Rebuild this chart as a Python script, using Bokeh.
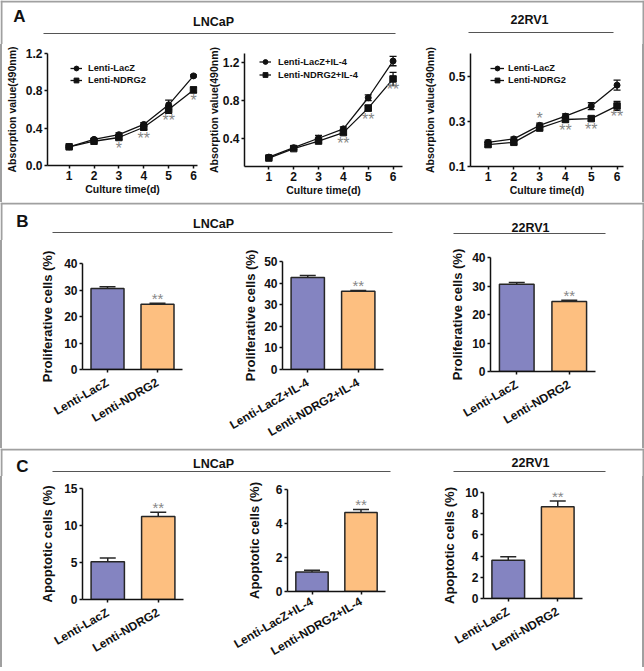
import math
from bokeh.plotting import figure
from bokeh.layouts import column, row
from bokeh.models import (ColumnDataSource, Range1d, FactorRange, FixedTicker, Div,
                          NumeralTickFormatter, Whisker, TeeHead, Legend, LegendItem)
from bokeh.core.properties import value
from bokeh.embed import file_html
from bokeh.resources import INLINE

FONT = "Liberation Sans"
BLACK = "#111111"
STAR_GRAY = "#878787"
FRAME_GRAY = "#a0a0a0"
BAR_FILL = ["#8484c1", "#fdbf80"]
BAR_LINE = "#262626"

# ---------------- data ----------------
panel_letters = ["A", "B", "C"]
cell_lines = ["LNCaP", "22RV1"]

days = [1, 2, 3, 4, 5, 6]
x_title = "Culture time(d)"
a_ylabel = "Absorption value(490nm)"

a1_names = ["Lenti-LacZ", "Lenti-NDRG2"]
a1_lacz = [0.20, 0.28, 0.33, 0.44, 0.65, 0.96]
a1_lacz_err = [0.01, 0.01, 0.02, 0.02, 0.05, 0.01]
a1_ndrg2 = [0.20, 0.26, 0.30, 0.41, 0.60, 0.81]
a1_ndrg2_err = [0.01, 0.01, 0.02, 0.03, 0.04, 0.03]
a1_sig = ["", "", "*", "**", "**", "*"]
a1_sig_side = ["", "", "below", "below", "below", "below"]
a1_yticks = [0.0, 0.4, 0.8, 1.2]

a2_names = ["Lenti-LacZ+IL-4", "Lenti-NDRG2+IL-4"]
a2_lacz = [0.20, 0.30, 0.40, 0.50, 0.83, 1.22]
a2_lacz_err = [0.01, 0.02, 0.03, 0.02, 0.03, 0.05]
a2_ndrg2 = [0.19, 0.29, 0.37, 0.46, 0.72, 1.03]
a2_ndrg2_err = [0.01, 0.01, 0.02, 0.02, 0.03, 0.07]
a2_sig = ["", "", "", "**", "**", "**"]
a2_sig_side = ["", "", "", "below", "below", "below"]
a2_yticks = [0.4, 0.8, 1.2]

a3_names = ["Lenti-LacZ", "Lenti-NDRG2"]
a3_lacz = [0.207, 0.222, 0.282, 0.323, 0.367, 0.460]
a3_lacz_err = [0.010, 0.008, 0.010, 0.010, 0.015, 0.022]
a3_ndrg2 = [0.197, 0.207, 0.270, 0.308, 0.312, 0.368]
a3_ndrg2_err = [0.010, 0.008, 0.008, 0.012, 0.010, 0.020]
a3_sig = ["", "", "*", "**", "**", "**"]
a3_sig_side = ["", "", "above", "below", "below", "below"]
a3_yticks = [0.1, 0.3, 0.5]

b_ylabel = "Proliferative cells (%)"
c_ylabel = "Apoptotic cells (%)"

cats_plain = ["Lenti-LacZ", "Lenti-NDRG2"]
cats_il4 = ["Lenti-LacZ+IL-4", "Lenti-NDRG2+IL-4"]
bar_sig = ["", "**"]

b1_vals = [30.6, 24.6]
b1_err = [0.6, 0.4]
b1_yticks = [0, 10, 20, 30, 40]
b2_vals = [42.6, 36.2]
b2_err = [0.9, 0.4]
b2_yticks = [0, 10, 20, 30, 40, 50]
b3_vals = [30.6, 24.6]
b3_err = [0.6, 0.4]
b3_yticks = [0, 10, 20, 30, 40]

c1_vals = [5.1, 11.2]
c1_err = [0.5, 0.6]
c1_yticks = [0, 5, 10, 15]
c2_vals = [1.15, 4.65]
c2_err = [0.10, 0.18]
c2_yticks = [0, 2, 4, 6]
c3_vals = [3.6, 8.65]
c3_err = [0.35, 0.55]
c3_yticks = [0, 2, 4, 6, 8, 10]


# ---------------- helpers ----------------
def base_fig(w, h, borders, xr, yr):
    l, r, t, b = borders
    p = figure(width=w, height=h, x_range=xr, y_range=yr, output_backend="svg",
               toolbar_location=None, min_border_left=l, min_border_right=r,
               min_border_top=t, min_border_bottom=b)
    p.outline_line_color = None
    p.grid.grid_line_color = None
    return p


def style_axes(p, tick_px, label_px, ylab_standoff, xlab_standoff=0):
    for ax in p.axis:
        ax.axis_line_color = BLACK
        ax.axis_line_width = 1.5
        ax.major_tick_line_color = BLACK
        ax.major_tick_line_width = 1.5
        ax.major_tick_in = 0
        ax.major_tick_out = 3
        ax.minor_tick_line_color = None
        ax.major_label_text_font = FONT
        ax.major_label_text_font_style = "bold"
        ax.major_label_text_font_size = f"{tick_px}px"
        ax.major_label_text_color = BLACK
        ax.major_label_standoff = 2
        ax.axis_label_text_font = FONT
        ax.axis_label_text_font_style = "bold"
        ax.axis_label_text_font_size = f"{label_px}px"
        ax.axis_label_text_color = BLACK
    p.yaxis.axis_label_standoff = ylab_standoff
    p.xaxis.axis_label_standoff = xlab_standoff


def line_panel(w, h, borders, xr, yr, yticks, names, lacz, lacz_err, ndrg, ndrg_err,
               sig, sig_side, legend_loc, row_h, lab_standoff, glyph_w, ylab_standoff):
    p = base_fig(w, h, borders, Range1d(*xr), Range1d(*yr))
    groups = []
    for vals, errs, marker, msize in ((lacz, lacz_err, "circle", 6), (ndrg, ndrg_err, "square", 6.5)):
        src = ColumnDataSource(dict(x=days, y=vals,
                                    up=[v + e for v, e in zip(vals, errs)],
                                    lo=[v - e for v, e in zip(vals, errs)]))
        p.add_layout(Whisker(source=src, base="x", upper="up", lower="lo", dimension="height",
                             line_color=BLACK, line_width=1.3,
                             upper_head=TeeHead(size=7, line_color=BLACK, line_width=1.3),
                             lower_head=TeeHead(size=7, line_color=BLACK, line_width=1.3)))
        ln = p.line("x", "y", source=src, line_color=BLACK, line_width=1.3)
        sc = p.scatter("x", "y", source=src, marker=marker, size=msize,
                       fill_color=BLACK, line_color=BLACK)
        groups.append([ln, sc])
    xs, ys, txt, offs = [], [], [], []
    for i, d in enumerate(days):
        if sig[i]:
            xs.append(d)
            txt.append(sig[i])
            if sig_side[i] == "above":
                ys.append(lacz[i])
                offs.append(-7)
            else:
                ys.append(ndrg[i])
                offs.append(11)
    ssrc = ColumnDataSource(dict(x=xs, y=ys, t=txt, off=offs))
    p.text(x="x", y="y", text="t", y_offset="off", source=ssrc, text_align="center",
           text_baseline="alphabetic", text_font=value(FONT), text_font_size="16px",
           text_color=STAR_GRAY)
    legend = Legend(items=[LegendItem(label=names[0], renderers=groups[0]),
                           LegendItem(label=names[1], renderers=groups[1])],
                    location=legend_loc, orientation="vertical",
                    background_fill_alpha=0, border_line_color=None,
                    padding=0, margin=0, spacing=0, glyph_width=glyph_w,
                    glyph_height=row_h, label_height=row_h, label_standoff=lab_standoff,
                    label_text_font=FONT, label_text_font_size="9.3px",
                    label_text_font_style="bold", label_text_color=BLACK)
    p.add_layout(legend)
    style_axes(p, 12, 10.5, ylab_standoff)
    p.xaxis.ticker = FixedTicker(ticks=days)
    p.xaxis.axis_label = x_title
    p.yaxis.ticker = FixedTicker(ticks=yticks)
    p.yaxis.formatter = NumeralTickFormatter(format="0.0")
    p.yaxis.axis_label = a_ylabel
    return p


def bar_panel(w, h, borders, cats, vals, errs, ymax, yticks, ylabel, ylab_standoff, xlab_standoff):
    p = base_fig(w, h, borders, FactorRange(factors=cats, range_padding=0), Range1d(0, ymax))
    src = ColumnDataSource(dict(cat=cats, val=vals,
                                top=[v + e for v, e in zip(vals, errs)],
                                fill=BAR_FILL, sig=bar_sig))
    p.vbar(x="cat", top="val", bottom=0, width=0.66, source=src, fill_color="fill",
           line_color=BAR_LINE, line_width=1.5)
    p.add_layout(Whisker(source=src, base="cat", upper="top", lower="val", dimension="height",
                         line_color=BAR_LINE, line_width=1.5,
                         upper_head=TeeHead(size=16, line_color=BAR_LINE, line_width=1.5),
                         lower_head=None))
    p.text(x="cat", y="top", text="sig", source=src, y_offset=-4.5, text_align="center",
           text_baseline="alphabetic", text_font=value(FONT), text_font_size="15px",
           text_color=STAR_GRAY)
    style_axes(p, 12, 13, ylab_standoff)
    p.xaxis.major_label_orientation = math.pi / 6
    p.xaxis.major_label_standoff = xlab_standoff
    p.yaxis.ticker = FixedTicker(ticks=yticks)
    p.yaxis.axis_label = ylabel
    return p


def header(w, h, letter, letter_xy, titles, top_rule):
    p = figure(width=w, height=h, x_range=Range1d(0, w), y_range=Range1d(h, 0),
               x_axis_type=None, y_axis_type=None, output_backend="svg",
               toolbar_location=None, min_border=0)
    p.outline_line_color = None
    # side frame lines
    p.segment(x0=[1, w - 1], y0=[0, 0], x1=[1, w - 1], y1=[h, h],
              line_color=FRAME_GRAY, line_width=2)
    if top_rule:
        p.segment(x0=[0], y0=[1], x1=[w], y1=[1], line_color=FRAME_GRAY, line_width=2)
    if letter:
        p.text(x=[letter_xy[0]], y=[letter_xy[1]], text=[letter], text_align="center",
               text_baseline="middle", text_font=value(FONT), text_font_style="bold",
               text_font_size="17px", text_color=BLACK)
    for name, tx, ty, lx0, lx1, ly in titles:
        p.text(x=[tx], y=[ty], text=[name], text_align="center", text_baseline="middle",
               text_font=value(FONT), text_font_style="bold", text_font_size="12.5px",
               text_color=BLACK)
        p.segment(x0=[lx0], y0=[ly], x1=[lx1], y1=[ly], line_color="#555555", line_width=1.2)
    return p


def side(h):
    return Div(width=2, height=h, margin=0, styles={"background-color": FRAME_GRAY})


def plot_row(h, figs):
    return row(side(h), *[column(f) for f in figs], side(h))


WT = 644
W1, W2, W3 = 202, 216, 222

# ---------------- section A ----------------
hA = header(WT, 44, panel_letters[0], (19, 16),
            [(cell_lines[0], 213, 21, 43, 395, 33), (cell_lines[1], 529, 19, 468, 613, 32)], True)
a1 = line_panel(W1, 158, (43, 7, 9, 37), (0.13, 6.16), (0, 1.2), a1_yticks, a1_names,
                a1_lacz, a1_lacz_err, a1_ndrg2, a1_ndrg2_err, a1_sig, a1_sig_side,
                (23, 79), 12, 6, 12, 5)
a2 = line_panel(W2, 158, (34, 18, 9, 36), (0.02, 6.38), (0.1, 1.3), a2_yticks, a2_names,
                a2_lacz, a2_lacz_err, a2_ndrg2, a2_ndrg2_err, a2_sig, a2_sig_side,
                (15, 85), 13, 7, 12, 0)
a3 = line_panel(W3, 158, (48, 19, 9, 36), (0.32, 6.25), (0.1, 0.6), a3_yticks, a3_names,
                a3_lacz, a3_lacz_err, a3_ndrg2, a3_ndrg2_err, a3_sig, a3_sig_side,
                (20, 80), 12, 4, 14, 10)

# ---------------- section B ----------------
hB = header(WT, 38, panel_letters[1], (22, 19),
            [(cell_lines[0], 213, 21, 52, 392, 30), (cell_lines[1], 530, 25, 453, 605, 31)], True)
b1 = bar_panel(W1, 208, (80, 22, 23, 79), cats_plain, b1_vals, b1_err, 40, b1_yticks, b_ylabel, 6, 9)
b2 = bar_panel(W2, 208, (78, 37, 21, 78), cats_il4, b2_vals, b2_err, 50, b2_yticks, b_ylabel, 3, 9)
b3 = bar_panel(W3, 208, (70, 47, 17, 77), cats_plain, b3_vals, b3_err, 40, b3_yticks, b_ylabel, 4, 9)

# ---------------- section C ----------------
hC = header(WT, 28, panel_letters[2], (22, 18),
            [(cell_lines[0], 213, 15, 52, 390, 23), (cell_lines[1], 530, 14, 453, 605, 23)], True)
c1 = bar_panel(W1, 191, (80, 21, 12, 68), cats_plain, c1_vals, c1_err, 15, c1_yticks, c_ylabel, 6, 9)
c2 = bar_panel(W2, 191, (83, 35, 13, 70), cats_il4, c2_vals, c2_err, 6, c2_yticks, c_ylabel, 11, 6)
c3 = bar_panel(W3, 191, (63, 60, 16, 69), cats_plain, c3_vals, c3_err, 10, c3_yticks, c_ylabel, 5, 9)

footer = header(WT, 4, "", (0, 0), [], True)

layout = column(hA, plot_row(158, [a1, a2, a3]),
                hB, plot_row(208, [b1, b2, b3]),
                hC, plot_row(191, [c1, c2, c3]),
                footer)

open("out.html", "w").write(file_html(layout, INLINE))
